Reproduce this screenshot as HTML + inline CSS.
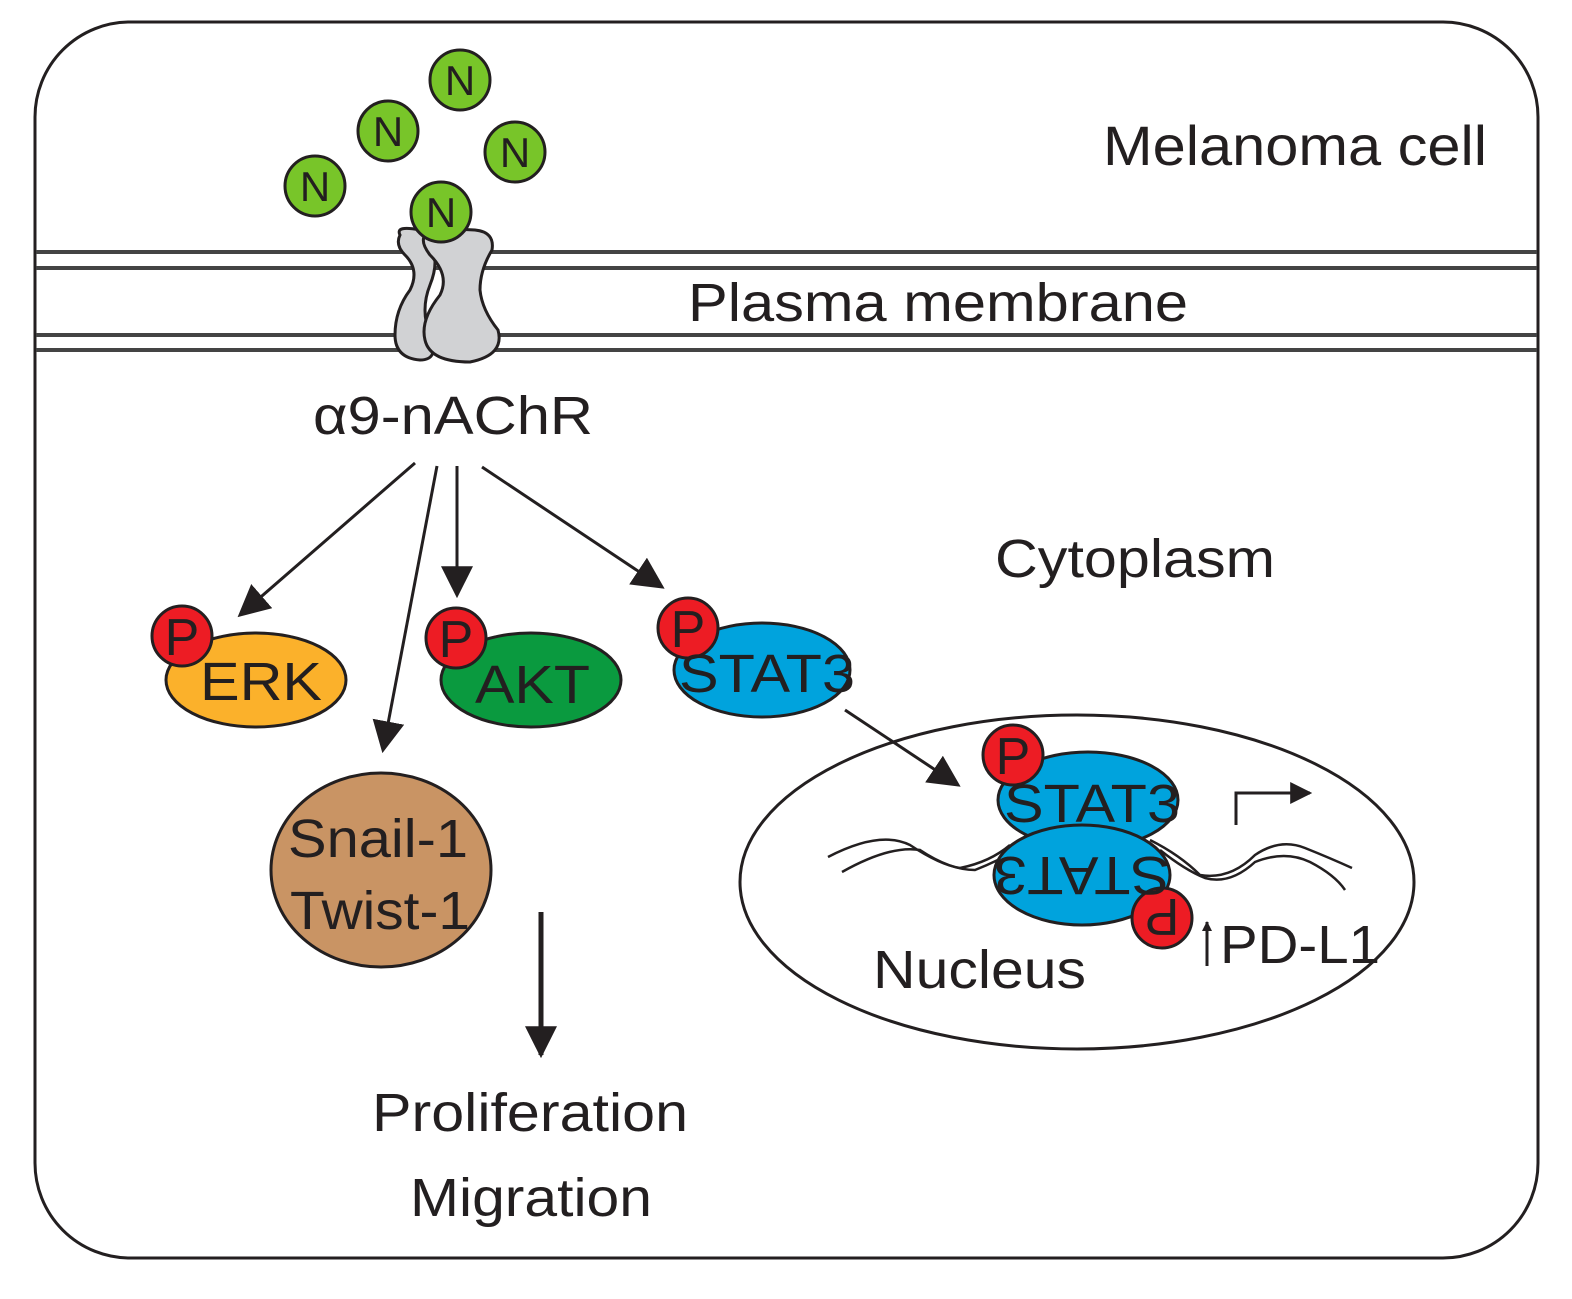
<!DOCTYPE html>
<html><head><meta charset="utf-8"><style>body{margin:0;background:#fff}svg{display:block}text{font-family:"Liberation Sans",sans-serif;fill:#231f20}</style></head><body>
<svg width="1572" height="1299" viewBox="0 0 1572 1299" xmlns="http://www.w3.org/2000/svg">
<defs><marker id="a" markerWidth="10" markerHeight="10" refX="9" refY="5" orient="auto" markerUnits="userSpaceOnUse" viewBox="0 0 10 10"><path d="M0,0L10,5L0,10z" fill="#231f20"/></marker>
<marker id="c" markerWidth="22" markerHeight="22" refX="9" refY="5" orient="auto" markerUnits="userSpaceOnUse" viewBox="0 0 10 10"><path d="M0,0L10,5L0,10z" fill="#231f20"/></marker>
<marker id="b" viewBox="0 0 10 10" refX="9" refY="5" markerWidth="32" markerHeight="32" orient="auto" markerUnits="userSpaceOnUse"><path d="M0,0L10,5L0,10z" fill="#231f20"/></marker></defs>
<rect x="35" y="22" width="1503" height="1236" rx="95" fill="#fff" stroke="#231f20" stroke-width="3"/>
<g stroke="#444" stroke-width="4"><line x1="36" y1="252" x2="1537" y2="252"/><line x1="36" y1="268" x2="1537" y2="268"/><line x1="36" y1="335" x2="1537" y2="335"/><line x1="36" y1="350" x2="1537" y2="350"/></g>
<g fill="#d1d2d4" stroke="#231f20" stroke-width="3">
<path d="M400,235 Q395,225 420,230 L430,245 Q440,260 430,285 Q420,310 430,335 Q440,360 420,360 Q395,358 395,335 Q395,310 410,290 Q420,270 405,255 Q395,245 400,235z"/>
<path d="M425,235 Q440,228 475,230 Q495,232 492,250 Q480,270 480,290 Q482,310 498,330 Q505,355 470,362 Q430,362 425,340 Q420,320 440,295 Q450,275 430,255 Q420,242 425,235z"/>
</g>
<g fill="#78c529" stroke="#231f20" stroke-width="3">
<circle cx="460" cy="80" r="30"/><circle cx="388" cy="131" r="30"/><circle cx="515" cy="152" r="30"/><circle cx="315" cy="186" r="30"/><circle cx="441" cy="212" r="30"/></g>
<g font-size="42" text-anchor="middle"><text x="460" y="95">N</text><text x="388" y="146">N</text><text x="515" y="167">N</text><text x="315" y="201">N</text><text x="441" y="227">N</text></g>
<text x="1103" y="165" font-size="56" textLength="384" lengthAdjust="spacingAndGlyphs">Melanoma cell</text>
<text x="688" y="321" font-size="54" textLength="500" lengthAdjust="spacingAndGlyphs">Plasma membrane</text>
<text x="313" y="434" font-size="54" textLength="280" lengthAdjust="spacingAndGlyphs">α9-nAChR</text>
<text x="995" y="577" font-size="54" textLength="280" lengthAdjust="spacingAndGlyphs">Cytoplasm</text>
<text x="372" y="1131" font-size="54" textLength="316" lengthAdjust="spacingAndGlyphs">Proliferation</text>
<text x="410" y="1216" font-size="54" textLength="242" lengthAdjust="spacingAndGlyphs">Migration</text>
<g stroke="#231f20" stroke-width="3">
<ellipse cx="256" cy="680" rx="90" ry="47" fill="#fbb12b"/>
<ellipse cx="531" cy="680" rx="90" ry="47" fill="#0a9a3f"/>
<ellipse cx="762" cy="670" rx="88" ry="47" fill="#00a3dd"/>
<ellipse cx="381" cy="870" rx="110" ry="97" fill="#c99464"/>
<ellipse cx="1077" cy="882" rx="337" ry="167" fill="#fff"/>
</g>
<g stroke="#231f20" stroke-width="3" fill="none">
<line x1="415" y1="463" x2="240" y2="615" marker-end="url(#b)"/>
<line x1="437" y1="466" x2="383" y2="750" marker-end="url(#b)"/>
<line x1="457" y1="466" x2="457" y2="595" marker-end="url(#b)"/>
<line x1="482" y1="467" x2="662" y2="587" marker-end="url(#b)"/>
<line x1="845" y1="710" x2="958" y2="785" marker-end="url(#b)"/>
<line x1="541" y1="912" x2="541" y2="1055" stroke-width="5" marker-end="url(#b)"/>
</g>
<g stroke="#231f20" stroke-width="2.5" fill="none">
<path d="M828,857 Q880,830 910,845 Q940,865 960,868 Q990,862 1010,845"/>
<path d="M842,872 Q890,845 920,850 Q950,870 975,870 Q1000,860 1020,848"/>
<path d="M1150,840 Q1180,855 1200,875 Q1230,880 1255,855 Q1280,838 1305,848 Q1330,858 1352,868"/>
<path d="M1160,850 Q1185,870 1205,878 Q1230,885 1255,862 Q1285,850 1310,862 Q1335,875 1345,890"/>
</g>
<g stroke="#231f20" stroke-width="3">
<ellipse cx="1088" cy="800" rx="90" ry="48" fill="#00a3dd"/>
<ellipse cx="1082" cy="875" rx="88" ry="50" fill="#00a3dd"/>
<g fill="#ed1c24"><circle cx="182" cy="636" r="30"/><circle cx="456" cy="638" r="30"/><circle cx="688" cy="628" r="30"/><circle cx="1013" cy="755" r="30"/><circle cx="1162" cy="918" r="30"/></g>
</g>
<g font-size="54"><text x="200" y="700" textLength="122" lengthAdjust="spacingAndGlyphs">ERK</text><text x="475" y="703" textLength="115" lengthAdjust="spacingAndGlyphs">AKT</text><text x="679" y="692" textLength="176" lengthAdjust="spacingAndGlyphs">STAT3</text><text x="1004" y="822" textLength="176" lengthAdjust="spacingAndGlyphs">STAT3</text>
<text x="1082" y="893" text-anchor="middle" transform="rotate(180 1082 875)" textLength="176" lengthAdjust="spacingAndGlyphs">STAT3</text>
<text x="288" y="857" textLength="180" lengthAdjust="spacingAndGlyphs">Snail-1</text><text x="290" y="929" textLength="180" lengthAdjust="spacingAndGlyphs">Twist-1</text>
<text x="873" y="988" textLength="213" lengthAdjust="spacingAndGlyphs">Nucleus</text><text x="1220" y="963" textLength="160" lengthAdjust="spacingAndGlyphs">PD-L1</text></g>
<g font-size="52" text-anchor="middle"><text x="182" y="655">P</text><text x="456" y="657">P</text><text x="688" y="647">P</text><text x="1013" y="774">P</text><text x="1162" y="937" transform="rotate(180 1162 918)">P</text></g>
<g stroke="#231f20" stroke-width="3" fill="none"><path d="M1236,825V793H1310" marker-end="url(#c)"/><line x1="1207" y1="966" x2="1207" y2="922" marker-end="url(#a)"/></g>
</svg>
</body></html>
